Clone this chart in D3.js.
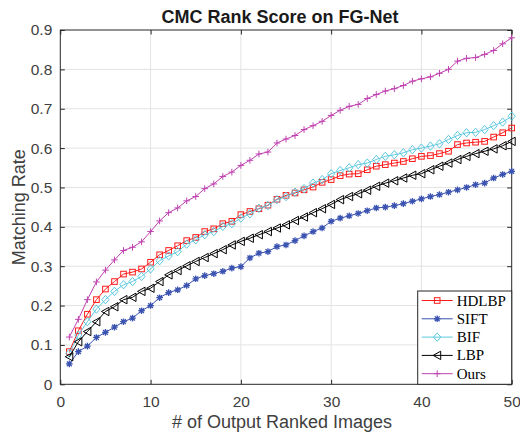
<!DOCTYPE html>
<html>
<head>
<meta charset="utf-8">
<script src="https://cdn.jsdelivr.net/npm/d3@7"></script>
<style>
  body { margin: 0; background: #fff; }
  svg { display: block; }
</style>
</head>
<body>
<svg id="chart"></svg>
<script>
const ranks = d3.range(1, 51);

const hdlbp = [0.083, 0.136, 0.178, 0.215, 0.242, 0.261, 0.28, 0.285, 0.293, 0.31,
  0.329, 0.34, 0.352, 0.365, 0.373, 0.388, 0.395, 0.408, 0.414, 0.431,
  0.439, 0.446, 0.455, 0.47, 0.48, 0.486, 0.494, 0.501, 0.513, 0.52,
  0.53, 0.534, 0.535, 0.545, 0.554, 0.558, 0.562, 0.566, 0.573, 0.579,
  0.581, 0.586, 0.592, 0.609, 0.613, 0.615, 0.617, 0.628, 0.639, 0.651];

const sift = [0.052, 0.083, 0.097, 0.119, 0.132, 0.145, 0.159, 0.168, 0.187, 0.2,
  0.22, 0.233, 0.24, 0.251, 0.268, 0.276, 0.281, 0.287, 0.295, 0.299,
  0.321, 0.333, 0.337, 0.35, 0.354, 0.365, 0.377, 0.388, 0.397, 0.414,
  0.422, 0.428, 0.434, 0.441, 0.448, 0.45, 0.454, 0.459, 0.465, 0.471,
  0.477, 0.482, 0.488, 0.494, 0.5, 0.507, 0.511, 0.524, 0.533, 0.541];

const bif = [0.079, 0.125, 0.159, 0.191, 0.215, 0.236, 0.253, 0.261, 0.274, 0.293,
  0.314, 0.326, 0.337, 0.356, 0.367, 0.38, 0.388, 0.401, 0.408, 0.422,
  0.433, 0.447, 0.454, 0.469, 0.477, 0.488, 0.497, 0.511, 0.52, 0.535,
  0.543, 0.55, 0.558, 0.562, 0.571, 0.579, 0.583, 0.588, 0.596, 0.6,
  0.605, 0.611, 0.622, 0.632, 0.639, 0.64, 0.647, 0.657, 0.666, 0.681];

const lbp = [0.07, 0.108, 0.134, 0.159, 0.185, 0.197, 0.215, 0.221, 0.236, 0.244,
  0.261, 0.278, 0.289, 0.301, 0.312, 0.322, 0.332, 0.342, 0.354, 0.363,
  0.371, 0.38, 0.388, 0.397, 0.405, 0.416, 0.425, 0.436, 0.446, 0.457,
  0.469, 0.477, 0.484, 0.493, 0.503, 0.511, 0.517, 0.524, 0.531, 0.535,
  0.545, 0.554, 0.562, 0.571, 0.579, 0.586, 0.592, 0.598, 0.606, 0.617];

const ours = [0.12, 0.165, 0.215, 0.26, 0.29, 0.316, 0.34, 0.348, 0.362, 0.388,
  0.415, 0.436, 0.448, 0.466, 0.477, 0.497, 0.509, 0.528, 0.539, 0.556,
  0.569, 0.585, 0.59, 0.613, 0.623, 0.632, 0.647, 0.657, 0.668, 0.683,
  0.696, 0.706, 0.711, 0.726, 0.736, 0.745, 0.751, 0.759, 0.77, 0.776,
  0.781, 0.79, 0.8, 0.821, 0.828, 0.83, 0.838, 0.848, 0.865, 0.88];

const xTicks = [0, 10, 20, 30, 40, 50];
const yTicks = [0, 0.1, 0.2, 0.3, 0.4, 0.5, 0.6, 0.7, 0.8, 0.9];

const series = [
  { name: 'HDLBP', values: hdlbp, color: '#ff1a1a', marker: 'square' },
  { name: 'SIFT',  values: sift,  color: '#3a52b0', marker: 'star' },
  { name: 'BIF',   values: bif,   color: '#5cc8de', marker: 'diamond' },
  { name: 'LBP',   values: lbp,   color: '#000000', marker: 'left' },
  { name: 'Ours',  values: ours,  color: '#c041b0', marker: 'plus' }
];

const W = 520, H = 433;
const margin = { top: 30, right: 8.3, bottom: 48.7, left: 60.3 };
const width  = W - margin.left - margin.right;
const height = H - margin.top - margin.bottom;
const axisColor = '#262626';
const sans = 'Liberation Sans, Arial, Helvetica, sans-serif';

const root = d3.select('#chart').attr('width', W).attr('height', H);
const svg = root.append('g')
  .attr('transform', `translate(${margin.left}, ${margin.top})`);

const x = d3.scaleLinear().domain([0, 50]).range([0, width]);
const y = d3.scaleLinear().domain([0, 0.9]).range([height, 0]);

// grid
svg.selectAll('.gx').data(xTicks.slice(1, -1)).enter().append('line')
  .attr('x1', d => x(d)).attr('x2', d => x(d))
  .attr('y1', 0).attr('y2', height)
  .attr('stroke', '#e3e3e3').attr('stroke-width', 1);
svg.selectAll('.gy').data(yTicks.slice(1, -1)).enter().append('line')
  .attr('x1', 0).attr('x2', width)
  .attr('y1', d => y(d)).attr('y2', d => y(d))
  .attr('stroke', '#e3e3e3').attr('stroke-width', 1);

// axes
function styleAxis(g, labels) {
  g.select('.domain').remove();
  g.selectAll('.tick line').attr('stroke', axisColor);
  g.selectAll('text')
    .attr('font-family', sans).attr('font-size', 15.5).attr('fill', '#404040');
  if (!labels) g.selectAll('text').remove();
}

svg.append('g')
  .attr('transform', `translate(0, ${height})`)
  .call(d3.axisBottom(x).tickValues(xTicks).tickSizeInner(-4.5).tickPadding(12))
  .call(g => styleAxis(g, true));
svg.append('g')
  .call(d3.axisTop(x).tickValues(xTicks).tickSizeInner(-4.5))
  .call(g => styleAxis(g, false));
svg.append('g')
  .call(d3.axisLeft(y).tickValues(yTicks).tickFormat(d3.format('')).tickSizeInner(-4.5).tickPadding(8))
  .call(g => styleAxis(g, true));
svg.append('g')
  .attr('transform', `translate(${width}, 0)`)
  .call(d3.axisRight(y).tickValues(yTicks).tickSizeInner(-4.5))
  .call(g => styleAxis(g, false));

svg.append('rect')
  .attr('x', 0).attr('y', 0).attr('width', width).attr('height', height)
  .attr('fill', 'none').attr('stroke', axisColor).attr('stroke-width', 1);

// markers
function drawMarker(g, type, color) {
  if (type === 'square') {
    g.append('rect').attr('x', -2.8).attr('y', -2.8).attr('width', 5.6).attr('height', 5.6)
      .attr('fill', 'none').attr('stroke', color).attr('stroke-width', 1);
  } else if (type === 'diamond') {
    g.append('path').attr('d', 'M0,-4.2L3.6,0L0,4.2L-3.6,0Z')
      .attr('fill', 'none').attr('stroke', color).attr('stroke-width', 1);
  } else if (type === 'left') {
    g.append('path').attr('d', 'M-4,0L3.5,-4.2L3.5,4.2Z')
      .attr('fill', 'none').attr('stroke', color).attr('stroke-width', 1);
  } else if (type === 'plus') {
    g.append('path').attr('d', 'M-3.3,0H3.3M0,-3.3V3.3')
      .attr('stroke', color).attr('stroke-width', 1);
  } else if (type === 'star') {
    g.append('path').attr('d', 'M-3.3,0H3.3M0,-3.3V3.3M-2.4,-2.4L2.4,2.4M-2.4,2.4L2.4,-2.4')
      .attr('stroke', color).attr('stroke-width', 1.3);
  }
}

const line = d3.line()
  .x((d, i) => x(ranks[i]))
  .y(d => y(d));

series.forEach(s => {
  svg.append('path')
    .datum(s.values)
    .attr('fill', 'none')
    .attr('stroke', s.color)
    .attr('stroke-width', 1)
    .attr('d', line);
  s.values.forEach((v, i) => {
    const g = svg.append('g').attr('transform', `translate(${x(ranks[i])}, ${y(v)})`);
    drawMarker(g, s.marker, s.color);
  });
});

// title and labels
root.append('text')
  .attr('x', margin.left + width / 2 - 6).attr('y', 23)
  .attr('text-anchor', 'middle')
  .attr('font-family', sans).attr('font-size', 18).attr('font-weight', 'bold')
  .attr('fill', '#1a1a1a')
  .text('CMC Rank Score on FG-Net');

root.append('text')
  .attr('x', margin.left + width / 2 - 4).attr('y', 428)
  .attr('text-anchor', 'middle')
  .attr('font-family', sans).attr('font-size', 18)
  .attr('fill', '#404040')
  .text('# of Output Ranked Images');

root.append('text')
  .attr('transform', `translate(25, ${margin.top + height / 2}) rotate(-90)`)
  .attr('text-anchor', 'middle')
  .attr('font-family', sans).attr('font-size', 18)
  .attr('fill', '#404040')
  .text('Matching Rate');

// legend
const legend = root.append('g').attr('transform', 'translate(417.7, 291)');
legend.append('rect')
  .attr('x', 0).attr('y', 0).attr('width', 94).attr('height', 93.3)
  .attr('fill', '#fff').attr('stroke', axisColor).attr('stroke-width', 1);

series.forEach((s, i) => {
  const row = legend.append('g').attr('transform', `translate(0, ${9.5 + i * 18.3})`);
  row.append('line')
    .attr('x1', 4).attr('x2', 35)
    .attr('stroke', s.color).attr('stroke-width', 1);
  const m = row.append('g').attr('transform', 'translate(19.5, 0)');
  drawMarker(m, s.marker, s.color);
  row.append('text')
    .attr('x', 39).attr('y', 5)
    .attr('font-family', 'Liberation Serif, Times New Roman, serif')
    .attr('font-size', 15)
    .attr('fill', '#000')
    .text(s.name);
});
</script>
</body>
</html>
